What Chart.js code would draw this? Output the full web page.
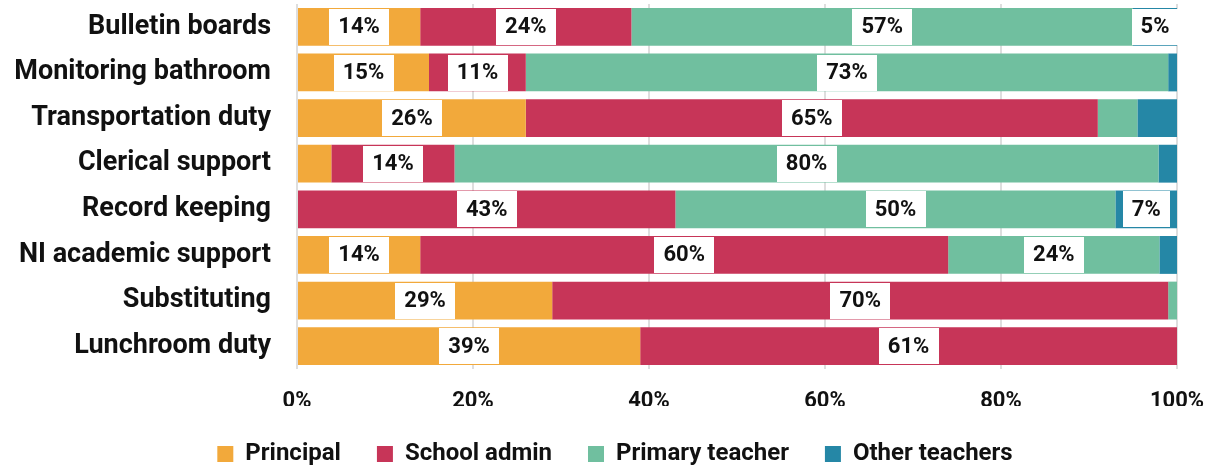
<!DOCTYPE html>
<html>
<head>
<meta charset="utf-8">
<script src="https://cdn.jsdelivr.net/npm/chart.js@4.4.1/dist/chart.umd.min.js"></script>
<style>
  html, body { margin: 0; padding: 0; background: #fff; }
  #wrap { width: 1214px; height: 467px; }
</style>
</head>
<body>
<div id="wrap"><canvas id="dutyChart" width="1214" height="467"></canvas></div>
<script>
const categories = ['Bulletin boards', 'Monitoring bathroom', 'Transportation duty', 'Clerical support',
  'Record keeping', 'NI academic support', 'Substituting', 'Lunchroom duty'];
const principal = [14, 15, 26, 3.9, 0, 14, 29, 39];
const schoolAdmin = [24, 11, 65, 14, 43, 60, 70, 61];
const primaryTeacher = [57, 73, 4.5, 80, 50, 24, 1, 0];
const otherTeachers = [5, 1, 4.5, 2.1, 7, 2, 0, 0];
const xTicks = [0, 20, 40, 60, 80, 100];

const FONT = 'Roboto';
const INK = '#111111';

// white boxed percentage labels inside segments of 5% or more
const boxLabels = {
  id: 'boxLabels',
  afterDatasetsDraw(chart) {
    const ctx = chart.ctx;
    ctx.save();
    ctx.font = 'bold 22px ' + FONT;
    ctx.textAlign = 'center';
    ctx.textBaseline = 'middle';
    chart.data.datasets.forEach((ds, i) => {
      const meta = chart.getDatasetMeta(i);
      meta.data.forEach((bar, j) => {
        const v = ds.data[j];
        if (v < 5) return;
        const text = Math.round(v) + '%';
        const w = ctx.measureText(text).width + 18;
        const h = bar.height - 2;
        const cx = (bar.x + bar.base) / 2;
        ctx.fillStyle = '#ffffff';
        ctx.fillRect(Math.round(cx - w / 2), Math.round(bar.y - h / 2), Math.round(w), Math.round(h));
        ctx.fillStyle = INK;
        ctx.fillText(text, cx, bar.y + 1);
      });
    });
    ctx.restore();
  }
};

new Chart(document.getElementById('dutyChart').getContext('2d'), {
  type: 'bar',
  data: {
    labels: categories,
    datasets: [
      { label: 'Principal', data: principal, backgroundColor: '#F2A93B' },
      { label: 'School admin', data: schoolAdmin, backgroundColor: '#C73558' },
      { label: 'Primary teacher', data: primaryTeacher, backgroundColor: '#70BF9F' },
      { label: 'Other teachers', data: otherTeachers, backgroundColor: '#2587A6' }
    ]
  },
  options: {
    indexAxis: 'y',
    responsive: false,
    animation: false,
    devicePixelRatio: 1,
    layout: { padding: { top: 4, right: 0, bottom: -9, left: 16 } },
    datasets: { bar: { categoryPercentage: 1, barPercentage: 0.83, borderWidth: 0 } },
    scales: {
      x: {
        stacked: true,
        min: 0,
        max: 100,
        border: { display: false },
        grid: { color: '#dedede', lineWidth: 2, drawTicks: false },
        afterBuildTicks: (scale) => { scale.ticks = xTicks.map(v => ({ value: v })); },
        afterFit: (scale) => {
          scale.height = 37;
          scale.paddingLeft = 0;
          scale.paddingRight = 37;
        },
        ticks: {
          padding: 19,
          color: INK,
          font: { family: FONT, size: 22, weight: 'bold' },
          callback: (v) => v + '%'
        }
      },
      y: {
        stacked: true,
        border: { display: false },
        grid: { display: false, drawTicks: false },
        afterFit: (scale) => {
          scale.width = 281;
          scale.paddingTop = 0;
          scale.paddingBottom = 0;
        },
        ticks: {
          padding: 26,
          color: INK,
          font: { family: FONT, size: 27, weight: 'bold' }
        }
      }
    },
    plugins: {
      legend: {
        position: 'bottom',
        labels: {
          color: INK,
          boxWidth: 16,
          boxHeight: 16,
          padding: 36,
          font: { family: FONT, size: 24, weight: 'bold' }
        }
      },
      tooltip: { enabled: false }
    }
  },
  plugins: [boxLabels]
});
</script>
</body>
</html>
